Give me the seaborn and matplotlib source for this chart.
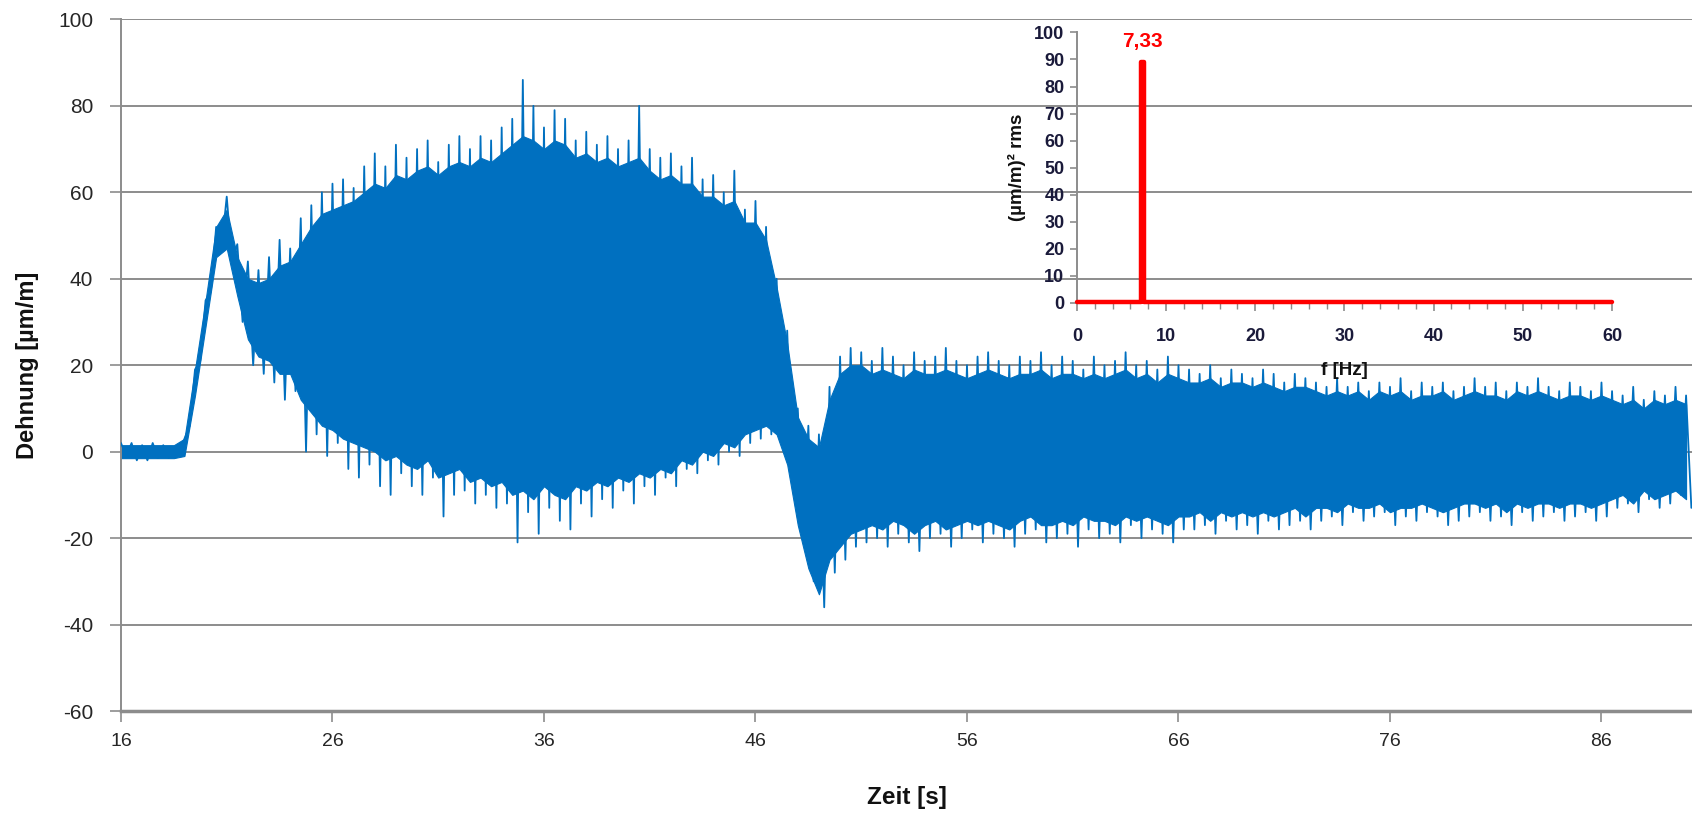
import numpy as np
import matplotlib
matplotlib.use("Agg")
import matplotlib.pyplot as plt
from matplotlib.ticker import MultipleLocator
import seaborn as sns

# ---------------- data ----------------
# strain signal, read every 0.5 s starting at 16.0 s
t_start = 16.0
t_step = 0.5
# local spike maxima (at t) and spike minima (at t + 0.25 s)
spike_hi = [2, 2, 1.5, 2, 1.5, 1, 3, 19, 35, 52,
            59, 48, 44, 42, 45, 49, 47, 54, 57, 60,
            62, 63, 61, 66, 69, 66, 71, 68, 70, 72,
            67, 71, 73, 70, 73, 72, 75, 77, 86, 80,
            75, 79, 77, 72, 74, 71, 73, 70, 72, 80,
            70, 68, 69, 66, 68, 63, 64, 60, 65, 56,
            58, 52, 40, 28, 10, 6, 4, 15, 22, 24,
            23, 21, 24, 22, 20, 23, 21, 22, 24, 21,
            20, 22, 23, 21, 20, 22, 21, 23, 20, 22,
            21, 19, 22, 20, 21, 23, 20, 21, 19, 22,
            20, 19, 18, 20, 17, 19, 18, 17, 19, 18,
            16, 18, 17, 16, 15, 17, 15, 16, 14, 16,
            15, 17, 14, 16, 15, 16, 14, 15, 17, 15,
            16, 14, 16, 15, 17, 15, 14, 16, 15, 14,
            16, 14, 13, 15, 12, 14, 13, 15, 13]
spike_lo = [-1, -2, -2, -1.5, -1.5, -1, 6, 21, 37, 47,
            44, 30, 20, 18, 16, 12, 14, 0, 4, -1,
            2, -4, -6, -3, -8, -10, -5, -8, -10, -6,
            -15, -10, -9, -12, -10, -13, -12, -21, -14, -19,
            -13, -16, -18, -12, -15, -11, -13, -9, -12, -8,
            -10, -6, -8, -4, -5, -2, -3, 0, -1, 2,
            3, 4, 2, -5, -20, -30, -36, -28, -25, -22,
            -21, -20, -22, -19, -21, -23, -20, -19, -22, -20,
            -18, -21, -19, -20, -22, -19, -18, -21, -20, -19,
            -22, -18, -20, -19, -21, -17, -20, -18, -19, -21,
            -18, -18, -17, -19, -16, -18, -17, -19, -16, -18,
            -17, -16, -18, -16, -15, -17, -14, -16, -15, -14,
            -17, -15, -16, -14, -15, -17, -16, -15, -14, -16,
            -15, -17, -14, -16, -15, -14, -16, -15, -14, -16,
            -15, -13, -12, -14, -11, -13, -12, -10, -13]
# solid (dense) band of the signal, same 0.5 s grid
core_hi = [1.5, 1.5, 1.5, 1.5, 1.5, 1.5, 3, 19, 35, 52,
           56, 45, 40, 39, 40, 43, 44, 48, 52, 55,
           56, 57, 58, 60, 62, 61, 64, 63, 65, 66,
           64, 66, 67, 66, 68, 67, 69, 71, 73, 72,
           70, 72, 71, 68, 69, 67, 68, 66, 67, 68,
           65, 63, 64, 62, 62, 59, 59, 57, 58, 53,
           53, 49, 38, 25, 8, 3, 1, 12, 18, 20,
           20, 18, 19, 18, 17, 19, 18, 18, 19, 18,
           17, 18, 19, 18, 17, 18, 18, 19, 17, 18,
           18, 17, 18, 17, 18, 19, 17, 18, 16, 18,
           17, 16, 16, 17, 15, 16, 16, 15, 16, 15,
           14, 15, 15, 14, 13, 14, 13, 14, 12, 14,
           13, 14, 12, 13, 13, 14, 12, 13, 14, 13,
           13, 12, 14, 13, 14, 13, 12, 13, 13, 12,
           13, 12, 11, 12, 10, 12, 11, 12, 11]
core_lo = [-1.5, -1.5, -1.5, -1.5, -1.5, -1.5, -1, 13, 29, 45,
           47, 36, 26, 22, 21, 18, 18, 12, 9, 6,
           5, 3, 2, 1, 0, -2, -1, -3, -4, -2,
           -6, -5, -4, -7, -6, -8, -7, -10, -9, -11,
           -8, -10, -11, -8, -9, -7, -8, -6, -7, -5,
           -6, -4, -5, -2, -3, 0, -1, 2, 1, 4,
           5, 6, 4, -3, -17, -27, -33, -25, -22, -19,
           -18, -17, -18, -16, -17, -19, -17, -16, -18, -17,
           -16, -17, -16, -17, -18, -16, -15, -17, -17, -16,
           -17, -15, -16, -16, -17, -15, -16, -15, -16, -17,
           -15, -15, -14, -16, -14, -15, -14, -15, -14, -15,
           -14, -13, -15, -13, -13, -14, -12, -13, -13, -12,
           -14, -13, -13, -12, -13, -14, -13, -12, -12, -13,
           -12, -14, -12, -13, -12, -12, -13, -12, -12, -13,
           -12, -11, -10, -12, -9, -11, -10, -9, -11]

# inset spectrum
freq = [0, 7.18, 7.18, 7.48, 7.48, 60]
amp = [0.5, 0.5, 89, 89, 0.5, 0.5]
peak_freq = 7.33
peak_label = "7,33"

x_ticks = [16, 26, 36, 46, 56, 66, 76, 86]
y_ticks = [-60, -40, -20, 0, 20, 40, 60, 80, 100]

# ---------------- styling ----------------
sns.set_theme(style="white")
plt.rcParams['font.family'] = ['Liberation Sans', 'DejaVu Sans']
BLUE = '#0070C0'
GRID = '#8c8c8c'
TXT = '#262626'

fig = plt.figure(figsize=(16.92, 8.14), dpi=100)
ax = fig.add_axes([0.0715, 0.1265, 0.9285, 0.8497])

n = min(len(spike_hi), len(spike_lo), len(core_hi), len(core_lo))
t_grid = t_start + t_step * np.arange(n)
zx = np.column_stack([t_grid, t_grid + t_step / 2]).ravel()
zy = np.column_stack([spike_hi[:n], spike_lo[:n]]).ravel()

ax.fill_between(t_grid, core_lo[:n], core_hi[:n], color=BLUE, lw=0.8, edgecolor=BLUE, zorder=2)
sns.lineplot(x=zx, y=zy, ax=ax, color=BLUE, lw=1.3, estimator=None, sort=False, zorder=3)

ax.set_xlim(16, 90.28)
ax.set_ylim(-60, 100)
ax.set_xticks(x_ticks)
ax.set_yticks(y_ticks)
ax.set_xticklabels([str(v) for v in x_ticks], fontsize=14, color=TXT)
ax.set_yticklabels([str(v) for v in y_ticks], fontsize=15, color=TXT)
ax.yaxis.grid(True, color=GRID, lw=1.4)
ax.xaxis.grid(False)
ax.set_axisbelow(True)
for s in ['top', 'right']:
    ax.spines[s].set_visible(False)
ax.spines['left'].set_color(GRID)
ax.spines['left'].set_linewidth(1.4)
ax.spines['bottom'].set_color(GRID)
ax.spines['bottom'].set_linewidth(2.5)
ax.tick_params(axis='x', bottom=True, direction='out', length=8, width=1.2, color=GRID, pad=8)
ax.tick_params(axis='y', left=True, direction='out', length=8, width=1.2, color=GRID, pad=12)
ax.set_xlabel("Zeit [s]", fontweight='bold', fontsize=17.5, labelpad=26, color='#111111')
ax.set_ylabel("Dehnung [µm/m]", fontweight='bold', fontsize=17, labelpad=14, color='#111111')

# ---------------- inset ----------------
ax2 = fig.add_axes([0.6365, 0.6278, 0.3162, 0.3324])
ax2.patch.set_alpha(0)
sns.lineplot(x=freq, y=amp, ax=ax2, color='red', lw=3.2, estimator=None, sort=False,
             zorder=5, clip_on=False)
ax2.set_xlim(0, 60)
ax2.set_ylim(0, 100)
ax2.set_xticks(range(0, 61, 10))
ax2.xaxis.set_minor_locator(MultipleLocator(2))
ax2.set_yticks(range(0, 101, 10))
ax2.grid(False)
for s in ['top', 'right']:
    ax2.spines[s].set_visible(False)
for s in ['left', 'bottom']:
    ax2.spines[s].set_color(GRID)
    ax2.spines[s].set_linewidth(1.4)
ax2.tick_params(axis='x', which='major', bottom=True, direction='out', length=6, width=1.2,
                color=GRID, pad=12)
ax2.tick_params(axis='x', which='minor', bottom=True, direction='out', length=4, width=1,
                color=GRID)
ax2.tick_params(axis='y', left=True, direction='out', length=5, width=1.2, color=GRID, pad=4)
ax2.set_xticklabels([str(v) for v in range(0, 61, 10)], fontweight='bold',
                    fontsize=13, color='#1a1a3a')
ax2.set_yticklabels([str(v) for v in range(0, 101, 10)], fontweight='bold',
                    fontsize=13, color='#1a1a3a')
ax2.set_xlabel("f [Hz]", fontweight='bold', fontsize=13.5, labelpad=12, color='#111111')
ax2.set_ylabel("(µm/m)² rms", fontweight='bold', fontsize=13.5, labelpad=6, color='#111111')
ax2.text(peak_freq, 96.5, peak_label, color='red', fontweight='bold',
         fontsize=15, ha='center', va='center')

fig.savefig("out.png", dpi=100)
